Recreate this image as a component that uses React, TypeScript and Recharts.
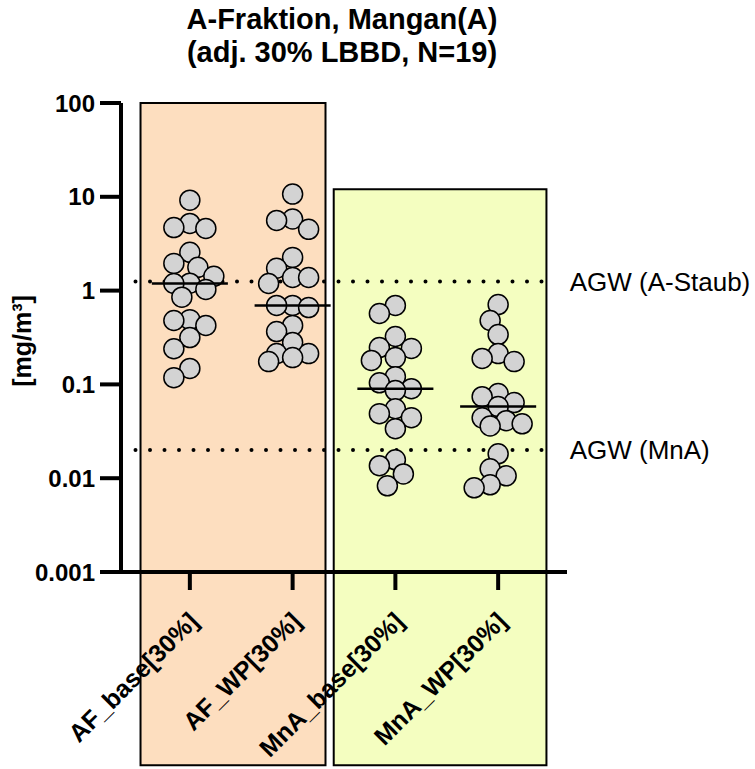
import {
  ComposedChart,
  ReferenceArea,
  ReferenceLine,
  Scatter,
  XAxis,
  YAxis,
} from "recharts";

const categories = ["AF_base[30%]", "AF_WP[30%]", "MnA_base[30%]", "MnA_WP[30%]"];

// values in mg/m³ (N=19 each)
const afBase = [9.2, 5.2, 4.7, 4.6, 2.56, 1.95, 1.77, 1.42, 1.2, 1.19, 1.03, 0.85, 0.49, 0.48, 0.425, 0.316, 0.24, 0.148, 0.118];
const afWp = [10.7, 5.8, 5.6, 4.5, 2.26, 1.73, 1.38, 1.38, 1.19, 0.695, 0.695, 0.66, 0.425, 0.366, 0.28, 0.213, 0.213, 0.193, 0.175];
const mnaBase = [0.695, 0.57, 0.324, 0.247, 0.242, 0.193, 0.18, 0.121, 0.104, 0.09, 0.086, 0.055, 0.0488, 0.0442, 0.0337, 0.0157, 0.0136, 0.0111, 0.0083];
const mnaWp = [0.71, 0.48, 0.34, 0.213, 0.189, 0.175, 0.08, 0.074, 0.064, 0.058, 0.044, 0.041, 0.038, 0.036, 0.0182, 0.0126, 0.0106, 0.0085, 0.0079];

const series = [afBase, afWp, mnaBase, mnaWp];

const yTicks = [0.001, 0.01, 0.1, 1, 10, 100];
const limits = [
  { label: "AGW (A-Staub)", value: 1.25 },
  { label: "AGW (MnA)", value: 0.02 },
];
// shaded groups: [from, to] in category units, top value
const groups = [
  { x1: 0.52, x2: 2.32, top: 100, fill: "#FDDEBF" },
  { x1: 2.4, x2: 4.47, top: 12, fill: "#F4FEC0" },
];

const W = 755;
const H = 769;
const M = { top: 103, right: 188, bottom: 167, left: 21 };
const Y_AXIS_W = 100;
const X_AXIS_H = 30;
const X_DOMAIN: [number, number] = [0.33, 4.67];
const FONT = '"Liberation Sans", Arial, sans-serif';

const plotW = W - M.left - M.right - Y_AXIS_W;
const plotH = H - M.top - M.bottom - X_AXIS_H;
const pxPerCat = plotW / (X_DOMAIN[1] - X_DOMAIN[0]);
const pxPerDecade = plotH / 5;

// compact beeswarm: largest first, nearest free slot within +-3 slots,
// otherwise the slot with the most clearance
function swarm(values: number[], cat: number) {
  const step = 8;
  const minDist = 16;
  const slots = [0, -1, 1, -2, 2, -3, 3];
  const placed: { dx: number; py: number }[] = [];
  const out: { x: number; y: number }[] = [];
  [...values]
    .sort((a, b) => b - a)
    .forEach((v) => {
      const py = -Math.log10(v) * pxPerDecade;
      let best = 0;
      let bestClear = -1;
      for (const k of slots) {
        const dx = k * step;
        const clear = placed.reduce((m, p) => Math.min(m, Math.hypot(p.dx - dx, p.py - py)), Infinity);
        if (clear >= minDist) {
          best = dx;
          break;
        }
        if (clear > bestClear) {
          bestClear = clear;
          best = dx;
        }
      }
      placed.push({ dx: best, py });
      out.push({ x: cat + best / pxPerCat, y: v });
    });
  return out;
}

function median(values: number[]) {
  const s = [...values].sort((a, b) => a - b);
  const m = Math.floor(s.length / 2);
  return s.length % 2 ? s[m] : (s[m - 1] + s[m]) / 2;
}

const points = series.flatMap((vals, i) => swarm(vals, i + 1));
const medians = series.map((vals, i) => ({ x: i + 1, y: median(vals) }));

const Dot = (props: any) => (
  <circle cx={props.cx} cy={props.cy} r={10} fill="#D3D3D3" stroke="#000" strokeWidth={1.5} />
);

const MedianBar = (props: any) => {
  const half = 0.37 * pxPerCat;
  return <line x1={props.cx - half} x2={props.cx + half} y1={props.cy} y2={props.cy} stroke="#000" strokeWidth={2.5} />;
};

const CatTick = (props: any) => {
  const { x, y, payload } = props;
  const ax = x + 10;
  const ay = y + 31;
  return (
    <text
      x={ax}
      y={ay}
      textAnchor="end"
      fontSize={25}
      fontWeight="bold"
      fill="#000"
      transform={`rotate(-45 ${ax} ${ay})`}
    >
      {categories[payload.value - 1]}
    </text>
  );
};

export default function App() {
  return (
    <div style={{ position: "absolute", left: 0, top: 0, width: W, height: H, background: "#fff" }}>
      <ComposedChart width={W} height={H} margin={M} style={{ fontFamily: FONT }}>
        {groups.map((g, i) => (
          <ReferenceArea
            key={i}
            x1={g.x1}
            x2={g.x2}
            y1={0.0000087}
            y2={g.top}
            ifOverflow="visible"
            fill={g.fill}
            fillOpacity={1}
            stroke="#000"
            strokeWidth={2}
          />
        ))}
        <XAxis
          type="number"
          dataKey="x"
          domain={X_DOMAIN}
          allowDataOverflow
          ticks={[1, 2, 3, 4]}
          height={X_AXIS_H}
          axisLine={{ stroke: "#000", strokeWidth: 4 }}
          tickLine={{ stroke: "#000", strokeWidth: 4 }}
          tickSize={18}
          tick={<CatTick />}
          interval={0}
        />
        <YAxis
          type="number"
          scale="log"
          domain={[0.001, 100]}
          allowDataOverflow
          ticks={yTicks}
          width={Y_AXIS_W}
          axisLine={{ stroke: "#000", strokeWidth: 4 }}
          tickLine={{ stroke: "#000", strokeWidth: 4 }}
          tickSize={21}
          tickMargin={5}
          tick={{ fill: "#000", fontSize: 24, fontWeight: "bold" }}
          tickFormatter={(v: number) => String(v)}
        />
        {limits.map((l) => (
          <ReferenceLine
            key={l.label}
            segment={[
              { x: X_DOMAIN[0], y: l.value },
              { x: 4.55, y: l.value },
            ]}
            ifOverflow="visible"
            stroke="#000"
            strokeWidth={4}
            strokeDasharray="0 14.5"
            strokeLinecap="round"
            label={{ value: l.label, position: "right", offset: 15, fill: "#000", fontSize: 26 }}
          />
        ))}
        <Scatter data={points} dataKey="y" shape={<Dot />} isAnimationActive={false} />
        <Scatter data={medians} dataKey="y" shape={<MedianBar />} isAnimationActive={false} />
        <text x={342} y={29} textAnchor="middle" fontSize={29} fontWeight="bold" fill="#000">
          A-Fraktion, Mangan(A)
        </text>
        <text x={342} y={62} textAnchor="middle" fontSize={29} fontWeight="bold" fill="#000">
          (adj. 30% LBBD, N=19)
        </text>
        <text
          x={31}
          y={341}
          textAnchor="middle"
          fontSize={25}
          fontWeight="bold"
          fill="#000"
          transform="rotate(-90 31 341)"
        >
          [mg/m³]
        </text>
      </ComposedChart>
    </div>
  );
}
